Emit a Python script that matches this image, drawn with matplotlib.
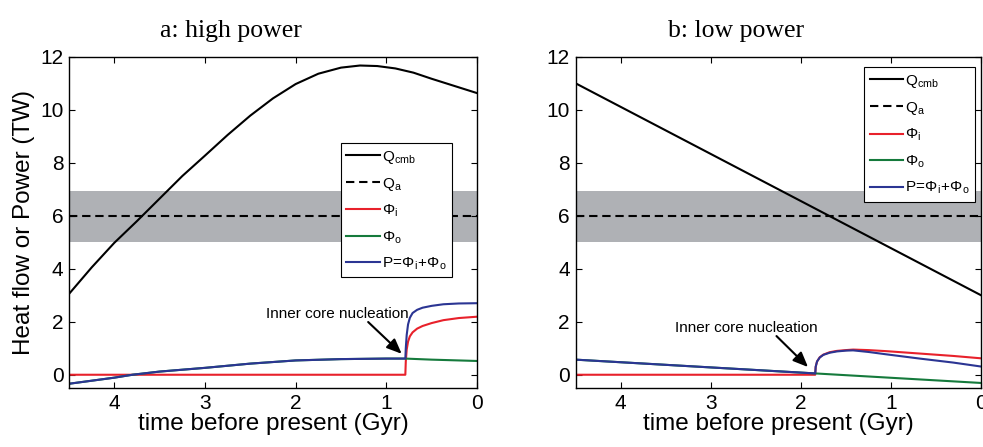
import matplotlib
matplotlib.use("Agg")
import matplotlib.pyplot as plt

plt.rcParams['font.family'] = ['Liberation Sans', 'DejaVu Sans']
plt.rcParams['mathtext.fontset'] = 'custom'
plt.rcParams['mathtext.rm'] = 'Liberation Sans'
plt.rcParams['mathtext.it'] = 'Liberation Sans'

# ---------------- data: panel a (high power) ----------------
a_t_Q = [4.5, 4.25, 4.0, 3.75, 3.5, 3.25, 3.0, 2.75, 2.5, 2.25, 2.0, 1.75, 1.5, 1.29,
         1.1, 0.9, 0.7, 0.5, 0.25, 0.0]
a_Q = [3.05, 4.05, 4.98, 5.8, 6.65, 7.5, 8.27, 9.05, 9.78, 10.43, 10.97, 11.36, 11.59, 11.67,
       11.65, 11.56, 11.4, 11.17, 10.9, 10.63]

a_t_o = [4.5, 4.0, 3.8, 3.5, 3.0, 2.5, 2.0, 1.5, 1.0, 0.79, 0.5, 0.0]
a_phi_o = [-0.34, -0.11, 0.0, 0.12, 0.26, 0.42, 0.54, 0.59, 0.61, 0.61, 0.57, 0.52]

a_t_i = [4.5, 0.79, 0.785, 0.775, 0.76, 0.74, 0.71, 0.66, 0.6, 0.5, 0.37, 0.2, 0.0]
a_phi_i = [0.0, 0.0, 0.5, 0.95, 1.25, 1.45, 1.6, 1.74, 1.84, 1.95, 2.06, 2.14, 2.19]

a_t_P = [4.5, 4.0, 3.8, 3.5, 3.0, 2.5, 2.0, 1.5, 1.0, 0.79, 0.785, 0.775, 0.76, 0.74,
         0.71, 0.66, 0.6, 0.5, 0.37, 0.2, 0.0]
a_P = [-0.34, -0.11, 0.0, 0.12, 0.26, 0.42, 0.54, 0.59, 0.61, 0.61, 1.0, 1.5, 1.9, 2.15,
       2.33, 2.45, 2.53, 2.6, 2.66, 2.69, 2.7]

# ---------------- data: panel b (low power) ----------------
b_t_Q = [4.5, 0.0]
b_Q = [11.0, 3.0]

b_t_o = [4.5, 1.84, 0.0]
b_phi_o = [0.57, 0.05, -0.31]

b_t_i = [4.5, 1.84, 1.835, 1.82, 1.79, 1.75, 1.68, 1.6, 1.5, 1.42, 1.25, 1.05, 0.68, 0.31, 0.0]
b_phi_i = [0.0, 0.0, 0.3, 0.5, 0.66, 0.76, 0.85, 0.9, 0.93, 0.95, 0.93, 0.89, 0.8, 0.71, 0.62]

b_t_P = [4.5, 1.84, 1.835, 1.82, 1.79, 1.75, 1.68, 1.6, 1.5, 1.42, 1.25, 1.05, 0.68, 0.31, 0.0]
b_P = [0.57, 0.05, 0.3, 0.5, 0.65, 0.75, 0.83, 0.88, 0.91, 0.92, 0.86, 0.77, 0.61, 0.46, 0.31]

Qa_value = 6.0
Qa_band = (5.0, 6.92)

titles = ["a: high power", "b: low power"]
xticks = [4, 3, 2, 1, 0]
yticks = [0, 2, 4, 6, 8, 10, 12]

# annotation positions (text centre, arrow tail, arrow tip) in data coords
ann = [((1.54, 2.3), (1.2, 1.99), (0.83, 0.79)),
       ((2.61, 1.76), (2.27, 1.46), (1.92, 0.29))]

RED = '#e8212b'
GREEN = '#157a3c'
BLUE = '#2b3593'
BAND = '#afb1b5'

fig = plt.figure(figsize=(9.83, 4.47), dpi=100)
ax_a = fig.add_axes([0.0702, 0.132, 0.415, 0.741])
ax_b = fig.add_axes([0.5855, 0.132, 0.4125, 0.741])

panels = [
    (ax_a, a_t_Q, a_Q, a_t_i, a_phi_i, a_t_o, a_phi_o, a_t_P, a_P, (0.939, 0.739)),
    (ax_b, b_t_Q, b_Q, b_t_i, b_phi_i, b_t_o, b_phi_o, b_t_P, b_P, (0.986, 0.968)),
]

for k, (ax, tq, q, ti, pi, to, po, tp, p, legpos) in enumerate(panels):
    ax.axhspan(Qa_band[0], Qa_band[1], color=BAND, lw=0, zorder=0)
    l1, = ax.plot(tq, q, color='black', lw=1.5, label=r'$\mathregular{Q_{cmb}}$')
    l2 = ax.axhline(Qa_value, color='black', lw=1.5, ls=(0, (4, 2.3)), label=r'$\mathregular{Q_a}$')
    l3, = ax.plot(ti, pi, color=RED, lw=1.5, label=r'$\mathregular{\Phi_i}$')
    l4, = ax.plot(to, po, color=GREEN, lw=1.5, label=r'$\mathregular{\Phi_o}$')
    l5, = ax.plot(tp, p, color=BLUE, lw=1.5, label=r'$\mathregular{P\!=\!\Phi_i\!+\!\Phi_o}$')
    ax.set_xlim(4.5, 0)
    ax.set_ylim(-0.5, 12)
    ax.set_xticks(xticks)
    ax.set_yticks(yticks)
    ax.tick_params(direction='in', length=4, width=0.8, top=True, right=True,
                   labelsize=15, pad=4)
    for s in ax.spines.values():
        s.set_linewidth(1.0)
    ax.set_xlabel('time before present (Gyr)', fontsize=17.5, labelpad=0)
    if k == 0:
        ax.set_ylabel('Heat flow or Power (TW)', fontsize=17.5, labelpad=4)
    ax.text(0.397, 1.045, titles[k], transform=ax.transAxes, ha='center', va='bottom',
            fontsize=18.5, family='Liberation Serif')
    leg = ax.legend(handles=[l1, l2, l3, l4, l5], loc='upper right',
                    bbox_to_anchor=legpos, borderaxespad=0, fontsize=11,
                    handlelength=2.2, handletextpad=0.15, labelspacing=0.66,
                    borderpad=0.35, fancybox=False, framealpha=1,
                    edgecolor='black')
    leg.get_frame().set_linewidth(0.8)
    (tx, ty), tail, tip = ann[k]
    ax.text(tx, ty, 'Inner core nucleation', ha='center', va='center', fontsize=11)
    ax.annotate('', xy=tip, xytext=tail,
                arrowprops=dict(arrowstyle='-|>,head_length=0.9,head_width=0.38',
                                color='black', lw=1.5, shrinkA=0, shrinkB=0))

fig.savefig('out.png', dpi=100)
